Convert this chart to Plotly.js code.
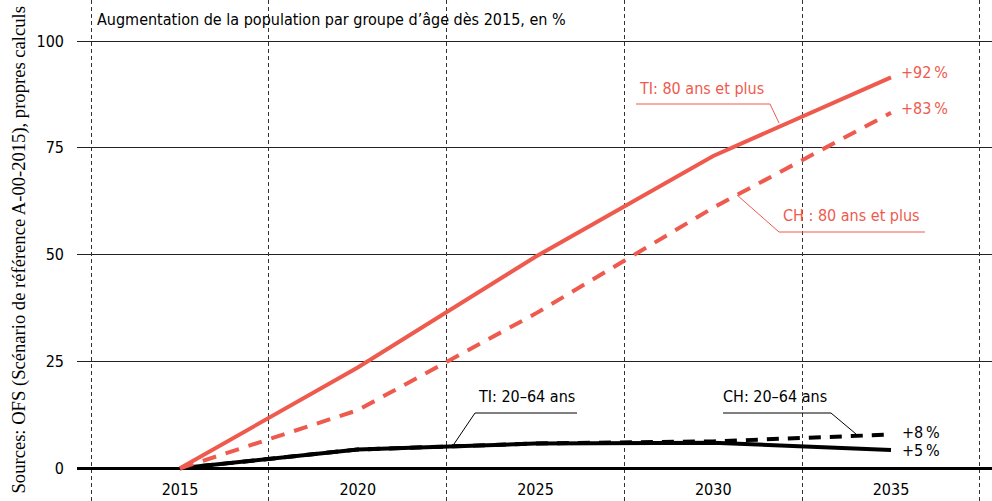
<!DOCTYPE html>
<html><head><meta charset="utf-8">
<script src="https://cdn.plot.ly/plotly-3.0.1.min.js"></script>
<style>html,body{margin:0;padding:0;background:#fff}#c{width:992px;height:501px}</style>
</head><body><div id="c"></div>
<script>
const years = [2015, 2020, 2025, 2030, 2035];
const ti80 = [0, 23.6, 49.5, 73.1, 91.5];
const ch80 = [0, 13.6, 36.2, 61.0, 83.2];
const ti2064 = [0, 4.4, 5.8, 6.0, 4.3];
const ch2064 = [0, 4.4, 5.8, 6.3, 7.9];
const yearTicks = [2015, 2020, 2025, 2030, 2035];
const gridYears = [2012.5, 2017.5, 2022.5, 2027.5, 2032.5, 2037.5];
const yTicks = [0, 25, 50, 75, 100];

const RED = '#EF5A4E';
const FONT = 'Liberation Sans Narrow, DejaVu Sans Condensed, sans-serif';

const traces = [
  {x: years, y: ch2064, mode: 'lines', line: {color: '#000', width: 4, dash: '12px,9px'}, hoverinfo: 'skip'},
  {x: years, y: ti2064, mode: 'lines', line: {color: '#000', width: 4}, hoverinfo: 'skip'},
  {x: years, y: ch80, mode: 'lines', line: {color: RED, width: 4, dash: '14px,10px'}, hoverinfo: 'skip'},
  {x: years, y: ti80, mode: 'lines', line: {color: RED, width: 4}, hoverinfo: 'skip'},
  {x: [years[0]], y: [null], xaxis: 'x2', mode: 'lines', hoverinfo: 'skip', showlegend: false}
];

function X(px){ return 2015 + (px - 180) / 35.55; }
function Y(py){ return (468.3 - py) / 4.273; }

const shapes = [
  {type: 'path', xref: 'x', yref: 'y', path: `M${X(636)},${Y(104)} L${X(770)},${Y(104)} L${X(779)},${Y(123)}`, line: {color: RED, width: 1}},
  {type: 'path', xref: 'x', yref: 'y', path: `M${X(737)},${Y(195)} L${X(779)},${Y(232)} L${X(925)},${Y(232)}`, line: {color: RED, width: 1}},
  {type: 'path', xref: 'x', yref: 'y', path: `M${X(577)},${Y(413)} L${X(475)},${Y(413)} L${X(454)},${Y(444)}`, line: {color: '#000', width: 1}},
  {type: 'path', xref: 'x', yref: 'y', path: `M${X(723)},${Y(413)} L${X(831)},${Y(413)} L${X(856)},${Y(434)}`, line: {color: '#000', width: 1}}
];

const ann = (t, px, py, color, xanchor) => ({text: t, x: X(px), y: Y(py), xref: 'x', yref: 'y', showarrow: false, xanchor: xanchor || 'center', yanchor: 'middle', font: {family: FONT, size: 16, color: color}});

const annotations = [
  {text: 'Augmentation de la population par groupe d’âge dès 2015, en %', xref: 'paper', yref: 'paper', x: 0, y: 1, xshift: 18, yshift: -8, xanchor: 'left', yanchor: 'top', showarrow: false, font: {family: FONT, size: 16, color: '#000'}},
  {text: 'Sources: OFS (Scénario de référence A-00-2015), propres calculs', xref: 'paper', yref: 'paper', x: 0, y: 0.5, xshift: -59, textangle: -90, xanchor: 'center', yanchor: 'middle', showarrow: false, font: {family: 'Liberation Serif, serif', size: 18.6, color: '#000'}},
  ann('TI: 80 ans et plus', 701, 88, RED),
  ann('CH : 80 ans et plus', 851, 215, RED),
  ann('+92\u2009%', 899, 72, RED, 'left'),
  ann('+83\u2009%', 899, 108, RED, 'left'),
  ann('TI: 20–64 ans', 526, 396, '#000'),
  ann('CH: 20–64 ans', 775, 396, '#000'),
  ann('+8\u2009%', 900, 432, '#000', 'left'),
  ann('+5\u2009%', 900, 450, '#000', 'left')
];

const layout = {
  width: 992, height: 501,
  margin: {l: 77, r: 0, t: 0, b: 0, pad: 0},
  paper_bgcolor: '#fff', plot_bgcolor: '#fff',
  showlegend: false,
  font: {family: FONT, size: 16, color: '#000'},
  xaxis: {range: [X(77), X(992)], tickvals: yearTicks, ticktext: yearTicks.map(String), showgrid: false, zeroline: false, showline: false, ticks: '', ticklabelposition: 'inside', tickfont: {family: FONT, size: 16, color: '#000'}, fixedrange: true},
  xaxis2: {overlaying: 'x', matches: 'x', range: [X(77), X(992)], tickvals: gridYears, showticklabels: false, showgrid: true, griddash: '4px,3px', gridcolor: '#333', gridwidth: 1, zeroline: false, showline: false, ticks: ''},
  yaxis: {range: [Y(501), Y(0)], tickvals: yTicks, ticktext: yTicks.map(String), showgrid: true, gridcolor: '#222', gridwidth: 1, zeroline: true, zerolinecolor: '#000', zerolinewidth: 3, showline: false, ticks: '', ticklabelstandoff: 12, tickfont: {family: FONT, size: 16, color: '#000'}, fixedrange: true},
  shapes: shapes,
  annotations: annotations
};

Plotly.newPlot('c', traces, layout, {displayModeBar: false, staticPlot: true});
</script></body></html>
